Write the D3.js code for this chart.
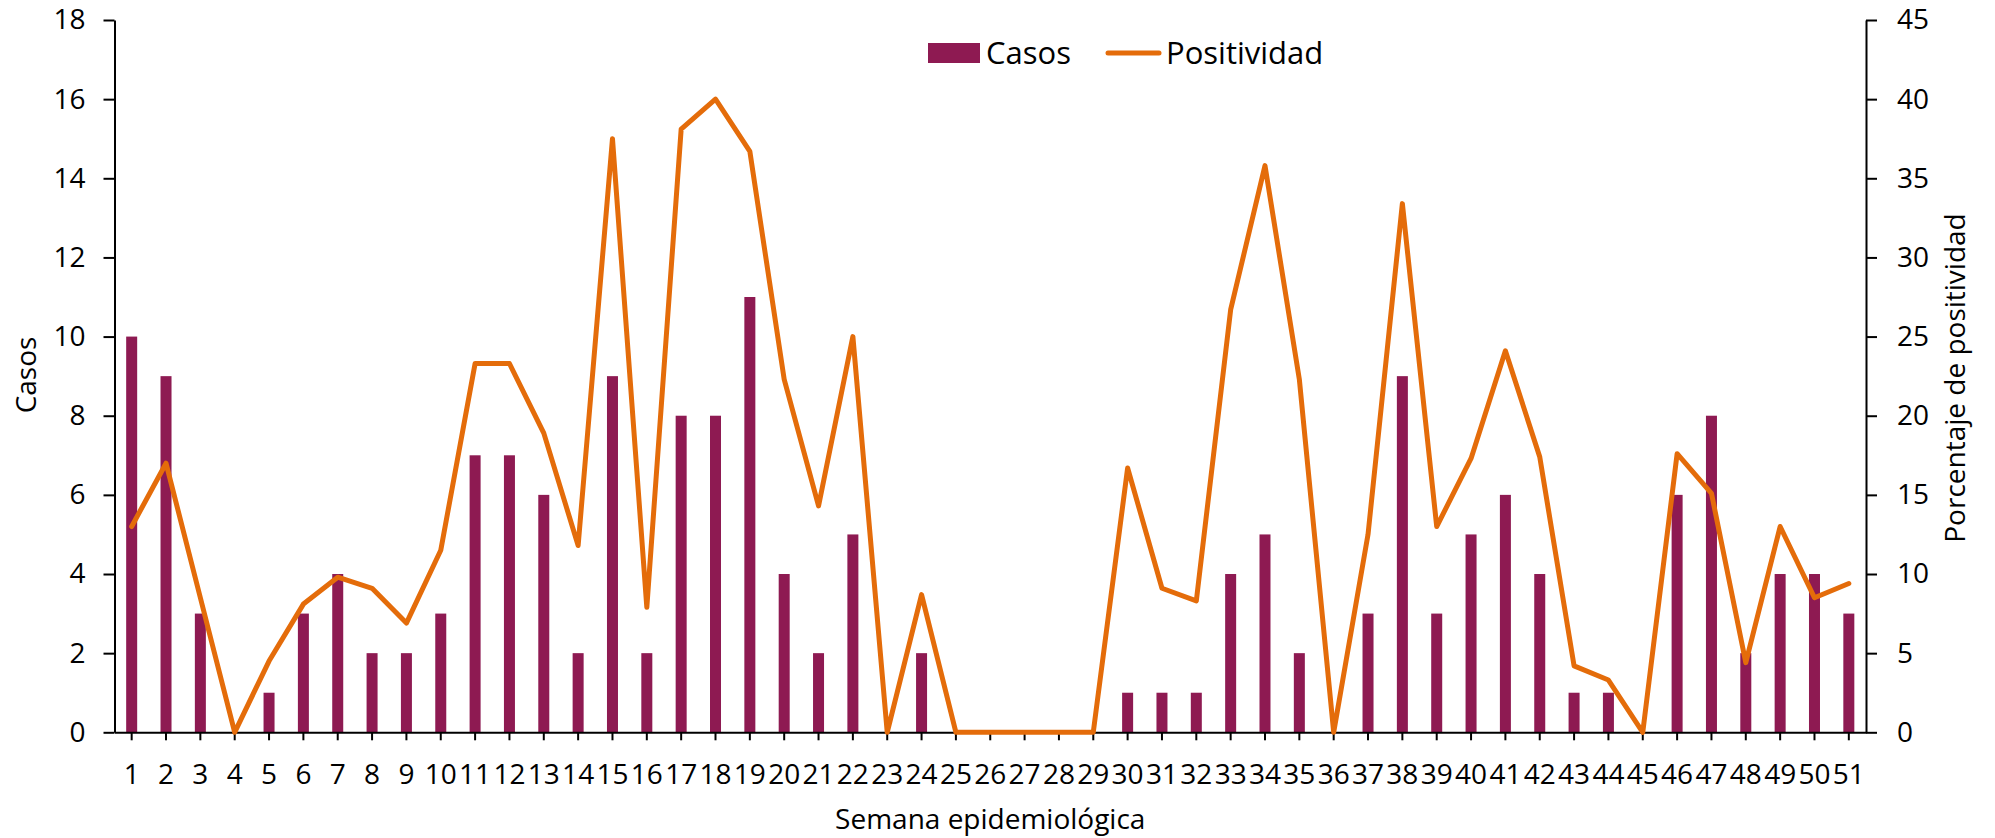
<!DOCTYPE html>
<html lang="es">
<head>
  <meta charset="UTF-8">
  <title>Casos y positividad por semana epidemiológica</title>
  <script src="https://d3js.org/d3.v7.min.js"></script>
  <style>
    body {
      margin: 0;
      background: #ffffff;
      font-family: "Open Sans", "Noto Sans", sans-serif;
    }
    svg text {
      fill: #000;
    }
    .axis text {
      font-size: 28px;
      font-family: "Open Sans", "Noto Sans", sans-serif;
    }
    .axis path, .axis line {
      stroke: #000;
      stroke-width: 2px;
    }
    .title {
      font-size: 28px;
    }
    .legend text {
      font-size: 31px;
    }
  </style>
</head>
<body>
<div id="chart"></div>
<script>
  // semanas epidemiológicas
  const semanas = [
    "1", "2", "3", "4", "5", "6", "7", "8", "9", "10",
    "11", "12", "13", "14", "15", "16", "17", "18", "19", "20",
    "21", "22", "23", "24", "25", "26", "27", "28", "29", "30",
    "31", "32", "33", "34", "35", "36", "37", "38", "39", "40",
    "41", "42", "43", "44", "45", "46", "47", "48", "49", "50", "51"
  ];

  const casos = [
    10, 9, 3, 0, 1, 3, 4, 2, 2, 3,
    7, 7, 6, 2, 9, 2, 8, 8, 11, 4,
    2, 5, 0, 2, 0, 0, 0, 0, 0, 1,
    1, 1, 4, 5, 2, 0, 3, 9, 3, 5,
    6, 4, 1, 1, 0, 6, 8, 2, 4, 4, 3
  ];

  // porcentaje de positividad (eje derecho)
  const positividad = [
    13.0, 17.0, 8.5, 0, 4.5, 8.1, 9.8, 9.1, 6.9, 11.5,
    23.3, 23.3, 18.9, 11.8, 37.5, 7.9, 38.1, 40.0, 36.7, 22.3,
    14.3, 25.0, 0, 8.7, 0, 0, 0, 0, 0, 16.7,
    9.1, 8.3, 26.7, 35.8, 22.3, 0, 12.5, 33.4, 13.0, 17.3,
    24.1, 17.4, 4.2, 3.3, 0, 17.6, 15.1, 4.4, 13.0, 8.5, 9.4
  ];

  const ticksCasos = [0, 2, 4, 6, 8, 10, 12, 14, 16, 18];
  const ticksPos = [0, 5, 10, 15, 20, 25, 30, 35, 40, 45];

  const width = 1995;
  const height = 838;
  const mLeft = 114.5, mRight = 1866, mTop = 20, mBottom = 732.3;
  const barColor = "#8E1A52";
  const lineColor = "#E46C0A";

  const svg = d3.select("#chart")
    .append("svg")
    .attr("width", width)
    .attr("height", height);

  const x = d3.scaleBand()
    .domain(semanas)
    .range([mLeft, mRight])
    .padding(0);

  const yL = d3.scaleLinear().domain([0, 18]).range([mBottom, mTop]);
  const yR = d3.scaleLinear().domain([0, 45]).range([mBottom, mTop]);

  const barW = 11;

  // barras de casos
  svg.append("g")
    .selectAll("rect")
    .data(casos)
    .enter()
    .append("rect")
    .attr("x", (d, i) => x(semanas[i]) + x.bandwidth() / 2 - barW / 2)
    .attr("y", d => yL(d))
    .attr("width", barW)
    .attr("height", d => mBottom - yL(d))
    .attr("fill", barColor);

  // ejes
  svg.append("g")
    .attr("class", "axis")
    .attr("transform", `translate(${mLeft},0)`)
    .call(d3.axisLeft(yL).tickValues(ticksCasos).tickSize(11).tickSizeOuter(0).tickPadding(18));

  svg.append("g")
    .attr("class", "axis")
    .attr("transform", `translate(${mRight},0)`)
    .call(d3.axisRight(yR).tickValues(ticksPos).tickSize(11).tickSizeOuter(0).tickPadding(20));

  const axB = svg.append("g")
    .attr("class", "axis")
    .attr("transform", `translate(0,${mBottom})`)
    .call(d3.axisBottom(x).tickSize(8).tickSizeOuter(0));
  axB.selectAll("text")
    .attr("y", 52)
    .attr("dy", 0);

  // línea de positividad
  const line = d3.line()
    .x((d, i) => x(semanas[i]) + x.bandwidth() / 2)
    .y(d => yR(d));

  svg.append("path")
    .datum(positividad)
    .attr("d", line)
    .attr("fill", "none")
    .attr("stroke", lineColor)
    .attr("stroke-width", 5)
    .attr("stroke-linejoin", "round")
    .attr("stroke-linecap", "round");

  // títulos de ejes
  svg.append("text")
    .attr("class", "title")
    .attr("transform", "translate(36,375) rotate(-90)")
    .attr("text-anchor", "middle")
    .text("Casos");

  svg.append("text")
    .attr("class", "title")
    .attr("transform", "translate(1965,378) rotate(-90)")
    .attr("text-anchor", "middle")
    .text("Porcentaje de positividad");

  svg.append("text")
    .attr("class", "title")
    .attr("x", (mLeft + mRight) / 2)
    .attr("y", 829)
    .attr("text-anchor", "middle")
    .text("Semana epidemiológica");

  // leyenda
  const legend = svg.append("g").attr("class", "legend");
  legend.append("rect")
    .attr("x", 928).attr("y", 43)
    .attr("width", 52).attr("height", 20)
    .attr("fill", barColor);
  legend.append("text")
    .attr("x", 986).attr("y", 63.5)
    .text("Casos");
  legend.append("line")
    .attr("x1", 1108).attr("x2", 1159)
    .attr("y1", 53).attr("y2", 53)
    .attr("stroke", lineColor)
    .attr("stroke-width", 5)
    .attr("stroke-linecap", "round");
  legend.append("text")
    .attr("x", 1166).attr("y", 63.5)
    .text("Positividad");
</script>
</body>
</html>
